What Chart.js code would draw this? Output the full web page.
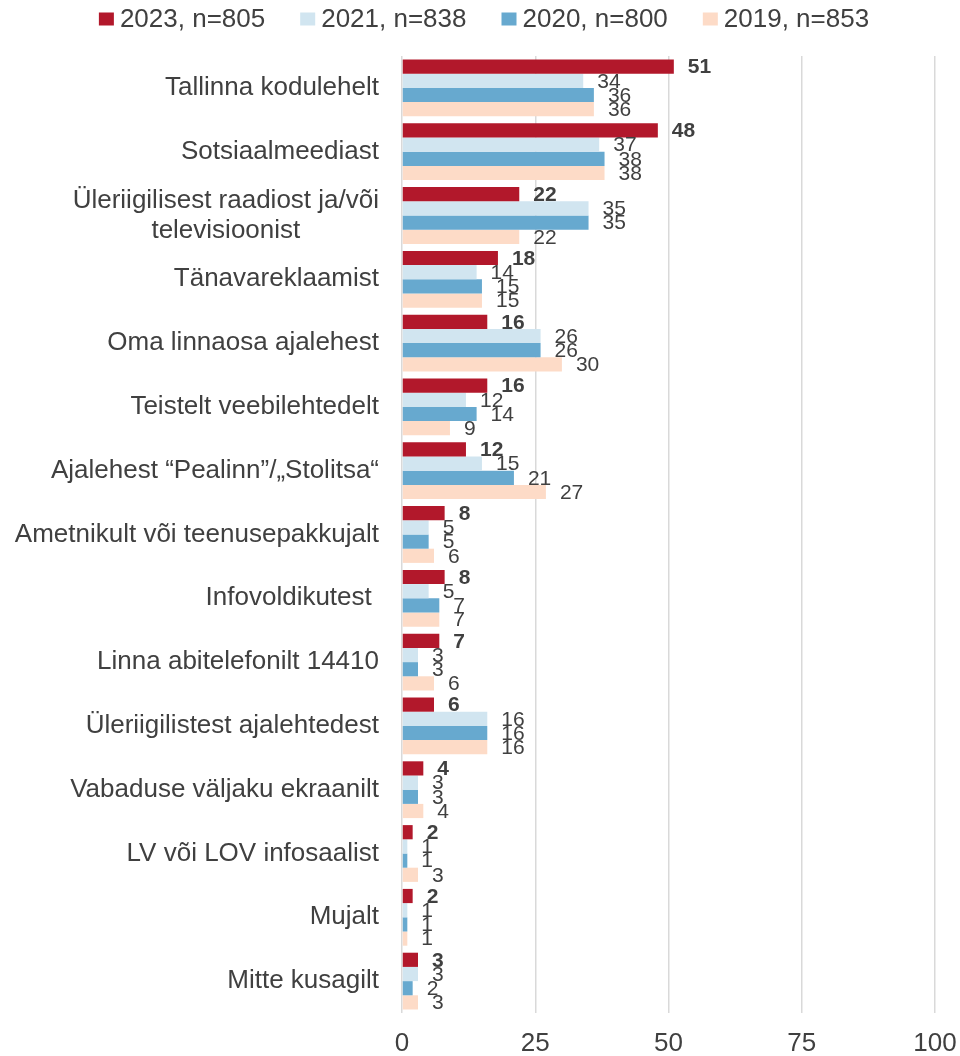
<!DOCTYPE html>
<html>
<head>
<meta charset="utf-8">
<script src="https://cdn.jsdelivr.net/npm/chart.js@4"></script>
<style>
html,body{margin:0;padding:0;background:#fff;}
#wrap{width:960px;height:1056px;position:relative;}
</style>
</head>
<body>
<div id="wrap"><canvas id="c" width="960" height="1056"></canvas></div>
<script>
const categories = [
  "Tallinna kodulehelt",
  "Sotsiaalmeediast",
  ["Üleriigilisest raadiost ja/või", "televisioonist"],
  "Tänavareklaamist",
  "Oma linnaosa ajalehest",
  "Teistelt veebilehtedelt",
  "Ajalehest “Pealinn”/„Stolitsa“",
  "Ametnikult või teenusepakkujalt",
  "Infovoldikutest ",
  "Linna abitelefonilt 14410",
  "Üleriigilistest ajalehtedest",
  "Vabaduse väljaku ekraanilt",
  "LV või LOV infosaalist",
  "Mujalt",
  "Mitte kusagilt"
];
const seriesNames = ["2023, n=805", "2021, n=838", "2020, n=800", "2019, n=853"];
const values2023 = [51, 48, 22, 18, 16, 16, 12, 8, 8, 7, 6, 4, 2, 2, 3];
const values2021 = [34, 37, 35, 14, 26, 12, 15, 5, 5, 3, 16, 3, 1, 1, 3];
const values2020 = [36, 38, 35, 15, 26, 14, 21, 5, 7, 3, 16, 3, 1, 1, 2];
const values2019 = [36, 38, 22, 15, 30, 9, 27, 6, 7, 6, 16, 4, 3, 1, 3];
const xTicks = [0, 25, 50, 75, 100];

const colors = ["#B2182B", "#D1E5F0", "#67A9CF", "#FDDBC7"];
const allValues = [values2023, values2021, values2020, values2019];
const TEXT = "#404040";
const FONT = "'Liberation Sans', Arial, sans-serif";

const yLabelsPlugin = {
  id: 'yLabels',
  afterDraw(chart) {
    const ctx = chart.ctx;
    const y = chart.scales.y;
    const right = chart.chartArea.left - 23;
    ctx.save();
    ctx.font = "26px " + FONT;
    ctx.fillStyle = TEXT;
    ctx.textBaseline = 'middle';
    ctx.textAlign = 'center';
    categories.forEach((lab, i) => {
      const lines = Array.isArray(lab) ? lab : [lab];
      const cy = y.getPixelForValue(i);
      const w = Math.max(...lines.map(l => ctx.measureText(l).width));
      const cx = right - w / 2;
      const lh = 30;
      const y0 = cy - (lines.length - 1) * lh / 2;
      lines.forEach((l, k) => ctx.fillText(l, cx, y0 + k * lh));
    });
    ctx.restore();
  }
};

const barLabelsPlugin = {
  id: 'barLabels',
  afterDatasetsDraw(chart) {
    const ctx = chart.ctx;
    ctx.save();
    ctx.fillStyle = TEXT;
    ctx.textBaseline = 'middle';
    ctx.textAlign = 'left';
    chart.data.datasets.forEach((ds, di) => {
      const meta = chart.getDatasetMeta(di);
      ctx.font = (di === 0 ? "bold " : "") + "21px " + FONT;
      meta.data.forEach((el, i) => {
        ctx.fillText(String(ds.data[i]), el.x + 14, el.y + 1);
      });
    });
    ctx.restore();
  }
};

const legendPlugin = {
  id: 'customLegend',
  afterDraw(chart) {
    const ctx = chart.ctx;
    ctx.save();
    ctx.font = "26px " + FONT;
    ctx.textBaseline = 'middle';
    ctx.textAlign = 'left';
    const bw = 15, bh = 13, gap = 6, spacing = 35;
    const widths = seriesNames.map(n => bw + gap + ctx.measureText(n).width);
    const total = widths.reduce((a, b) => a + b, 0) + spacing * (seriesNames.length - 1);
    let x = 484 - total / 2;
    const cy = 19;
    seriesNames.forEach((n, i) => {
      ctx.fillStyle = colors[i];
      ctx.fillRect(x, cy - bh / 2, bw, bh);
      ctx.fillStyle = TEXT;
      ctx.fillText(n, x + bw + gap, cy + 1);
      x += widths[i] + spacing;
    });
    ctx.restore();
  }
};

new Chart(document.getElementById('c'), {
  type: 'bar',
  data: {
    labels: categories.map(c => Array.isArray(c) ? c.join(' ') : c),
    datasets: seriesNames.map((n, i) => ({
      label: n,
      data: allValues[i],
      backgroundColor: colors[i],
      borderWidth: 0,
      categoryPercentage: 0.89,
      barPercentage: 1.0
    }))
  },
  options: {
    indexAxis: 'y',
    responsive: false,
    animation: false,
    devicePixelRatio: 1,
    layout: { padding: { top: 56, right: 25, left: 0, bottom: 0 } },
    plugins: { legend: { display: false }, tooltip: { enabled: false } },
    scales: {
      x: {
        min: 0, max: 100,
        afterBuildTicks(scale) { scale.ticks = xTicks.map(v => ({ value: v })); },
        afterFit(scale) { scale.height = 43; scale.paddingLeft = 0; scale.paddingRight = 0; },
        grid: { color: '#D9D9D9', lineWidth: 1.5, drawTicks: false },
        border: { display: false },
        ticks: { color: TEXT, font: { family: FONT, size: 26 }, padding: 15, maxRotation: 0, autoSkip: false }
      },
      y: {
        afterFit(scale) { scale.width = 402; scale.paddingTop = 0; scale.paddingBottom = 0; },
        grid: { display: false },
        border: { display: false },
        ticks: { display: false }
      }
    }
  },
  plugins: [yLabelsPlugin, barLabelsPlugin, legendPlugin]
});
</script>
</body>
</html>
